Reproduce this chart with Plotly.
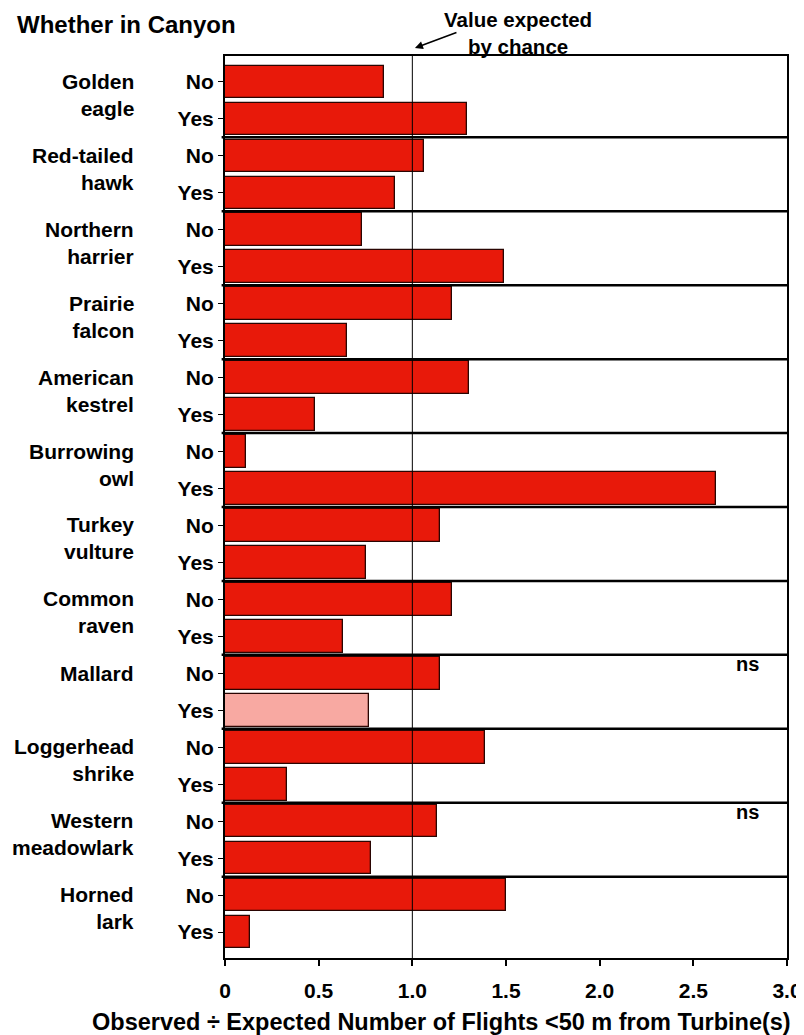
import plotly.graph_objects as go

species = ["Golden<br>eagle", "Red-tailed<br>hawk", "Northern<br>harrier", "Prairie<br>falcon",
           "American<br>kestrel", "Burrowing<br>owl", "Turkey<br>vulture", "Common<br>raven",
           "Mallard", "Loggerhead<br>shrike", "Western<br>meadowlark", "Horned<br>lark"]
no_values = [0.85, 1.06, 0.73, 1.21, 1.30, 0.11, 1.15, 1.21, 1.15, 1.39, 1.13, 1.50]
yes_values = [1.29, 0.91, 1.49, 0.65, 0.48, 2.62, 0.75, 0.63, 0.77, 0.33, 0.78, 0.135]
# significance: True = significant (dark), False = not significant (pale)
no_sig = [True] * 12
yes_sig = [True, True, True, True, True, True, True, True, False, True, True, True]
ns_species = [8, 10]  # indices of species with "ns" note
x_ticks = [0, 0.5, 1.0, 1.5, 2.0, 2.5, 3.0]
x_ticklabels = ["0", "0.5", "1.0", "1.5", "2.0", "2.5", "3.0"]

RED = "#E8190A"
PALE = "#F8A9A2"
FONT = "Arial, Liberation Sans, sans-serif"

xs, ys, cols, ticktext = [], [], [], []
for i in range(len(species)):
    xs += [no_values[i], yes_values[i]]
    ys += [2 * i, 2 * i + 1]
    cols += [RED if no_sig[i] else PALE, RED if yes_sig[i] else PALE]
    ticktext += ["No", "Yes"]

fig = go.Figure()
fig.add_trace(go.Bar(
    x=xs, y=ys, orientation="h", width=0.88,
    marker=dict(color=cols, line=dict(color="#2a0502", width=1.3)),
    showlegend=False, hoverinfo="x",
))

n = 2 * len(species)
fig.update_layout(
    width=796, height=1027,
    margin=dict(l=217, r=17, t=48, b=77),
    paper_bgcolor="white", plot_bgcolor="white",
    bargap=0,
    font=dict(family=FONT, size=20, color="black", weight="bold"),
    xaxis=dict(range=[0, 3.0], tickvals=x_ticks, ticktext=x_ticklabels, automargin=False,
               showgrid=False, zeroline=False, showline=True, linecolor="black",
               linewidth=2, mirror=True, ticks="outside", ticklen=6, tickwidth=1.5,
               tickcolor="black", ticklabelstandoff=7,
               tickfont=dict(family=FONT, size=21, weight="bold")),
    yaxis=dict(range=[n - 1 + 0.7, -0.7], tickvals=list(range(n)), ticktext=ticktext,
               automargin=False,
               showgrid=False, zeroline=False, showline=True, linecolor="black",
               linewidth=2, mirror=True, ticks="outside", ticklen=5, tickwidth=1.2,
               tickcolor="black",
               tickfont=dict(family=FONT, size=21, weight="bold")),
)

# reference line at 1.0
fig.add_shape(type="line", xref="x", yref="paper", x0=1.0, x1=1.0, y0=0, y1=1,
              line=dict(color="black", width=1))
# group separators
for i in range(1, len(species)):
    yv = 2 * i - 0.5
    fig.add_shape(type="line", xref="paper", yref="y", x0=-0.006, x1=1, y0=yv, y1=yv,
                  line=dict(color="black", width=2.5))

# species labels
for i, s in enumerate(species):
    two = "<br>" in s
    fig.add_annotation(text=s, xref="paper", yref="y", x=-0.158, y=2 * i,
                       xanchor="right", yanchor="middle", align="right", showarrow=False,
                       yshift=-13 if two else 0,
                       font=dict(family=FONT, size=21, weight="bold"))

# ns notes
for i in ns_species:
    fig.add_annotation(text="ns", xref="x", yref="y", x=2.79, y=2 * i, showarrow=False,
                       yshift=9, font=dict(family=FONT, size=20, weight="bold"))

# x-axis title (offset left of plot centre, as in the original)
fig.add_annotation(text="Observed \u00f7 Expected Number of Flights <50 m from Turbine(s)",
                   xref="paper", yref="paper", x=0.385, y=-0.071, xanchor="center",
                   yanchor="middle", showarrow=False,
                   font=dict(family=FONT, size=23.5, weight="bold"))

# header text
fig.add_annotation(text="Whether in Canyon", xref="paper", yref="paper",
                   x=-0.374, y=1.0344, xanchor="left", yanchor="middle", showarrow=False,
                   font=dict(family=FONT, size=24, weight="bold"))
fig.add_annotation(text="Value expected<br>by chance", xref="paper", yref="paper",
                   x=0.521, y=1.0255, xanchor="center", yanchor="middle", showarrow=False,
                   font=dict(family=FONT, size=20.5, weight="bold"))
fig.add_annotation(text="", xref="paper", yref="paper", x=0.338, y=1.0089,
                   ax=43, ay=-16, showarrow=True, arrowhead=2, arrowsize=1,
                   arrowwidth=1.6, arrowcolor="black")

fig.write_html("out.html")
